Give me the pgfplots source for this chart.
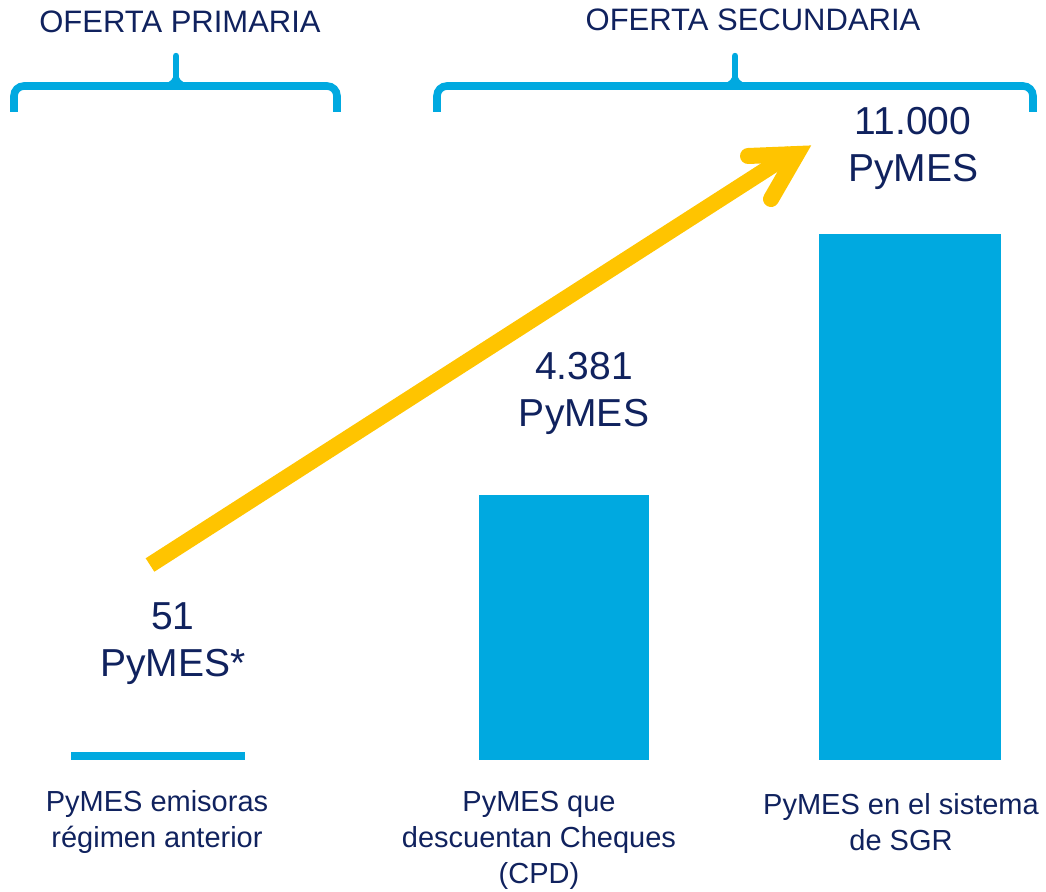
\documentclass[border=0pt]{standalone}
\usepackage{fontspec}
\setmainfont{Liberation Sans}
\usepackage{pgfplots}
\pgfplotsset{compat=1.18}
\definecolor{navy}{HTML}{10225E}
\definecolor{barblue}{HTML}{00A9E0}
\definecolor{arrowyellow}{HTML}{FFC400}
\begin{document}
\begin{tikzpicture}
\begin{axis}[
  scale only axis, width=523pt, height=445.5pt,
  xmin=0, xmax=1046, ymin=-131, ymax=760,
  hide axis, clip=false,
  ybar, bar shift=0pt,
]
% bars (heights, pixel units above the baseline)
\addplot[fill=barblue, draw=none, bar width=174] coordinates {(158,8)};
\addplot[fill=barblue, draw=none, bar width=170] coordinates {(564,265)};
\addplot[fill=barblue, draw=none, bar width=182] coordinates {(910,526)};

% brackets
\draw[barblue, line width=3.8pt, rounded corners=5pt] (axis cs:14,648) |- (axis cs:176,674) -| (axis cs:337,648);
\draw[barblue, line width=3.2pt, line cap=round] (axis cs:176,680) -- (axis cs:176,704);
\draw[barblue, line width=1.6pt] (axis cs:164,675) to[out=0,in=-90] (axis cs:176,688) to[out=-90,in=180] (axis cs:188,675);
\draw[barblue, line width=3.8pt, rounded corners=5pt] (axis cs:437,648) |- (axis cs:735,674) -| (axis cs:1033,648);
\draw[barblue, line width=3.2pt, line cap=round] (axis cs:735,680) -- (axis cs:735,704);
\draw[barblue, line width=1.6pt] (axis cs:723,675) to[out=0,in=-90] (axis cs:735,688) to[out=-90,in=180] (axis cs:747,675);

% headers
\node[navy, font=\fontsize{15.5}{18}\selectfont] at (axis cs:180,738) {OFERTA PRIMARIA};
\node[navy, font=\fontsize{15.5}{18}\selectfont] at (axis cs:753,740) {OFERTA SECUNDARIA};

% arrow
\draw[arrowyellow, line width=8pt, line cap=butt] (axis cs:150,195) -- (axis cs:792,607);
\draw[arrowyellow, line width=8pt, line cap=round, line join=miter] (axis cs:748,604) -- (axis cs:797,606) -- (axis cs:771,561);

% value labels
\node[navy, align=center, font=\fontsize{19.5}{23.5}\selectfont] at (axis cs:173,116) {51\\PyMES*};
\node[navy, align=center, font=\fontsize{19.5}{23.5}\selectfont] at (axis cs:584,367) {4.381\\PyMES};
\node[navy, align=center, font=\fontsize{19.5}{23.5}\selectfont] at (axis cs:913,612) {11.000\\PyMES};

% category labels
\node[navy, align=center, font=\fontsize{14.5}{18}\selectfont] at (axis cs:157,-62) {PyMES emisoras\\régimen anterior};
\node[navy, align=center, font=\fontsize{14.5}{18}\selectfont] at (axis cs:539,-80) {PyMES que\\descuentan Cheques\\(CPD)};
\node[navy, align=center, font=\fontsize{14.5}{18}\selectfont] at (axis cs:901,-62) {PyMES en el sistema\\de SGR};
\end{axis}
\pgfresetboundingbox
\path (current axis.south west) rectangle (current axis.north east);
\end{tikzpicture}
\end{document}
